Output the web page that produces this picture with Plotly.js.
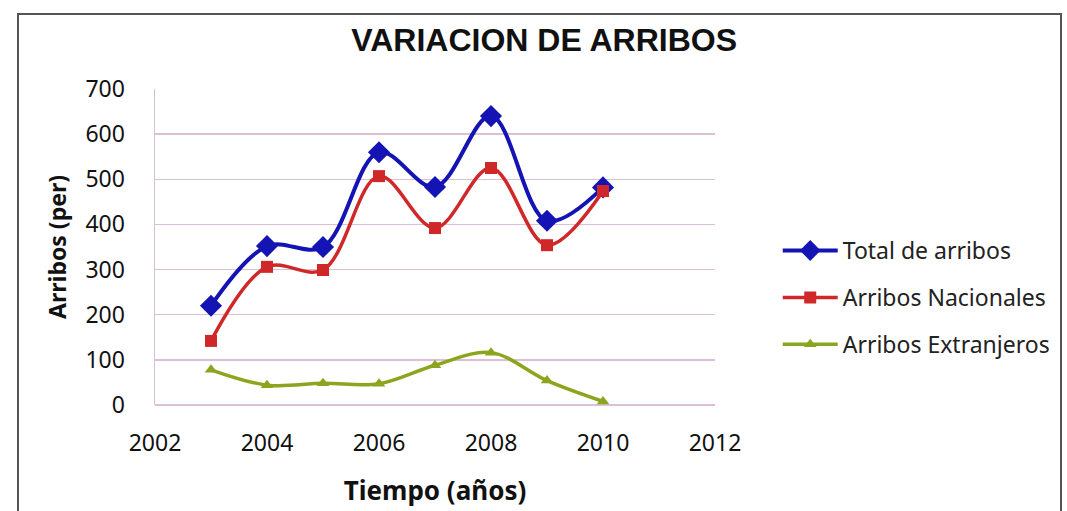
<!DOCTYPE html>
<html>
<head>
<meta charset="utf-8">
<script src="https://cdn.plot.ly/plotly-3.0.1.min.js"></script>
<style>
html,body{margin:0;padding:0;background:#fff;}
#chart{width:1067px;height:511px;}
</style>
</head>
<body>
<div id="chart"></div>
<script>
const years = [2003, 2004, 2005, 2006, 2007, 2008, 2009, 2010];
const totalArribos = [220, 352, 350, 560, 483, 640, 408, 482];
const arribosNacionales = [142, 306, 299, 507, 392, 525, 354, 474];
const arribosExtranjeros = [78, 44, 48, 47, 88, 116, 54, 8];
const seriesNames = ["Total de arribos", "Arribos Nacionales", "Arribos Extranjeros"];
const xTicks = [2002, 2004, 2006, 2008, 2010, 2012];
const yTicks = [0, 100, 200, 300, 400, 500, 600, 700];

const traces = [
  {
    x: years, y: totalArribos, name: seriesNames[0], legendgroup: "a",
    type: "scatter", mode: "lines+markers",
    line: {color: "#1414b4", width: 4, shape: "spline", smoothing: 1},
    marker: {symbol: "diamond", size: 17, color: "#1414b4"}
  },
  {
    x: years, y: arribosNacionales, name: seriesNames[1], legendgroup: "b",
    type: "scatter", mode: "lines+markers",
    line: {color: "#d02828", width: 3.5, shape: "spline", smoothing: 1},
    marker: {symbol: "square", size: 12, color: "#d02828"}
  },
  {
    x: years, y: arribosExtranjeros, name: seriesNames[2], legendgroup: "c",
    type: "scatter", mode: "lines+markers",
    line: {color: "#8ca51e", width: 3.5, shape: "spline", smoothing: 1},
    marker: {symbol: "triangle-up", size: 11, color: "#8ca51e"}
  }
];

const layout = {
  width: 1067, height: 511,
  margin: {l: 155, r: 352, t: 89, b: 106},
  paper_bgcolor: "#ffffff", plot_bgcolor: "#ffffff",
  title: {
    text: "<b>VARIACION DE ARRIBOS</b>",
    font: {family: "Liberation Sans, Arial, sans-serif", size: 32, color: "#111"},
    x: 0.51, xanchor: "center", y: 0.922, yanchor: "middle"
  },
  xaxis: {
    range: [2002, 2012], tickvals: xTicks, ticktext: xTicks.map(String),
    showgrid: false, zeroline: false, showline: false,
    ticks: "", ticklabelstandoff: 22,
    tickfont: {family: "Noto Sans, sans-serif", size: 23, color: "#111"},
    title: {text: "<b>Tiempo (años)</b>", standoff: 24,
      font: {family: "Noto Sans, sans-serif", size: 26, color: "#111"}}
  },
  yaxis: {
    range: [0, 700], tickvals: yTicks,
    showgrid: true, gridcolor: "#dcc0d8", gridwidth: 1.5,
    zeroline: true, zerolinecolor: "#dcc0d8", zerolinewidth: 1.5,
    showline: true, linecolor: "#dcc0d8", linewidth: 1.5,
    ticks: "", ticklabelstandoff: 24,
    tickfont: {family: "Noto Sans, sans-serif", size: 23, color: "#111"},
    title: {text: "<b>Arribos (per)</b>", standoff: 12,
      font: {family: "Noto Sans, sans-serif", size: 23, color: "#111"}}
  },
  showlegend: true,
  legend: {
    x: 1.112, xanchor: "left", y: 0.34, yanchor: "middle",
    traceorder: "grouped", tracegroupgap: 14,
    font: {family: "Noto Sans, sans-serif", size: 23, color: "#222"},
    bgcolor: "rgba(0,0,0,0)", itemwidth: 55
  },
  shapes: [
    {type: "rect", xref: "paper", yref: "paper",
     x0: (18 - 155) / 560, x1: (1061 - 155) / 560,
     y0: -0.45, y1: (405 - 14) / 316,
     line: {color: "#555", width: 2}, fillcolor: "rgba(0,0,0,0)", layer: "below"}
  ]
};

Plotly.newPlot("chart", traces, layout, {displayModeBar: false, staticPlot: true});
</script>
</body>
</html>
